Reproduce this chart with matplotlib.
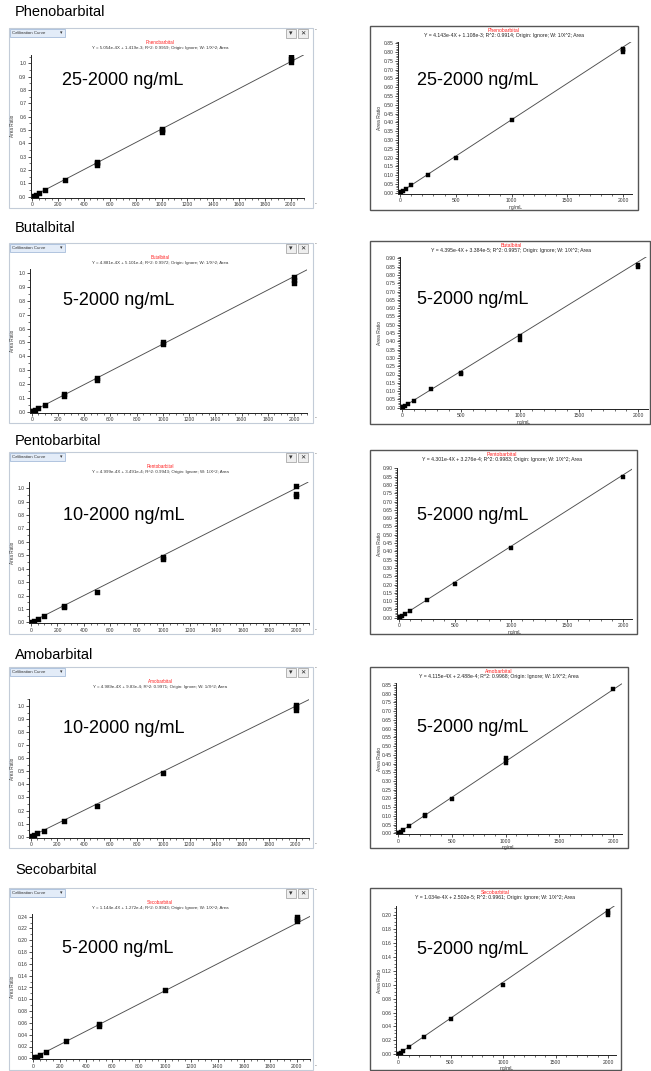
import matplotlib
matplotlib.use('Agg')
import matplotlib.pyplot as plt
from matplotlib.patches import Rectangle
from matplotlib.ticker import MultipleLocator, FormatStrFormatter

plt.rcParams['font.family'] = ['Liberation Sans', 'DejaVu Sans']

W, H = 651, 1071

# ---- data ----
drugs = ['Phenobarbital', 'Butalbital', 'Pentobarbital', 'Amobarbital', 'Secobarbital']
range_left = ['25-2000 ng/mL', '5-2000 ng/mL', '10-2000 ng/mL', '10-2000 ng/mL', '5-2000 ng/mL']
range_right = ['25-2000 ng/mL', '5-2000 ng/mL', '5-2000 ng/mL', '5-2000 ng/mL', '5-2000 ng/mL']

eq_left = [
    'Y = 5.054e-4X + 1.419e-3; R^2: 0.9959; Origin: Ignore; W: 1/X^2; Area',
    'Y = 4.881e-4X + 5.101e-4; R^2: 0.9972; Origin: Ignore; W: 1/X^2; Area',
    'Y = 4.999e-4X + 3.491e-4; R^2: 0.9943; Origin: Ignore; W: 1/X^2; Area',
    'Y = 4.989e-4X + 9.83e-4; R^2: 0.9971; Origin: Ignore; W: 1/X^2; Area',
    'Y = 1.144e-4X + 1.272e-4; R^2: 0.9943; Origin: Ignore; W: 1/X^2; Area',
]
eq_right = [
    'Y = 4.143e-4X + 1.108e-3; R^2: 0.9914; Origin: Ignore; W: 1/X^2; Area',
    'Y = 4.395e-4X + 3.384e-5; R^2: 0.9957; Origin: Ignore; W: 1/X^2; Area',
    'Y = 4.301e-4X + 3.276e-4; R^2: 0.9983; Origin: Ignore; W: 1/X^2; Area',
    'Y = 4.115e-4X + 2.488e-4; R^2: 0.9968; Origin: Ignore; W: 1/X^2; Area',
    'Y = 1.034e-4X + 2.502e-5; R^2: 0.9961; Origin: Ignore; W: 1/X^2; Area',
]
slope_left = [5.054e-4, 4.881e-4, 4.999e-4, 4.989e-4, 1.144e-4]
icpt_left = [1.419e-3, 5.101e-4, 3.491e-4, 9.83e-4, 1.272e-4]
slope_right = [4.143e-4, 4.395e-4, 4.301e-4, 4.115e-4, 1.034e-4]
icpt_right = [1.108e-3, 3.384e-5, 3.276e-4, 2.488e-4, 2.502e-5]

pheno_l_x = [10, 25, 50, 100, 250, 500, 500, 500, 1000, 1000, 1000, 2000, 2000, 2000]
pheno_l_y = [0.006, 0.012, 0.025, 0.05, 0.125, 0.235, 0.25, 0.262, 0.485, 0.5, 0.51, 1.01, 1.03, 1.05]
pheno_r_x = [10, 25, 50, 100, 250, 500, 1000, 2000, 2000, 2000]
pheno_r_y = [0.004, 0.008, 0.02, 0.045, 0.103, 0.2, 0.415, 0.80, 0.81, 0.82]

butal_l_x = [5, 10, 25, 50, 100, 250, 250, 500, 500, 1000, 1000, 2000, 2000, 2000]
butal_l_y = [0.003, 0.005, 0.012, 0.024, 0.048, 0.115, 0.13, 0.232, 0.245, 0.49, 0.505, 0.93, 0.95, 0.97]
butal_r_x = [5, 10, 25, 50, 100, 250, 500, 500, 1000, 1000, 2000, 2000]
butal_r_y = [0.002, 0.004, 0.01, 0.02, 0.042, 0.112, 0.205, 0.212, 0.405, 0.43, 0.85, 0.86]

pento_l_x = [10, 25, 50, 100, 250, 250, 500, 1000, 1000, 2000, 2000, 2000]
pento_l_y = [0.005, 0.012, 0.025, 0.048, 0.115, 0.122, 0.229, 0.472, 0.485, 0.94, 0.955, 1.02]
pento_r_x = [5, 10, 25, 50, 100, 250, 500, 1000, 2000]
pento_r_y = [0.002, 0.004, 0.01, 0.02, 0.043, 0.104, 0.204, 0.42, 0.848]

amo_l_x = [10, 25, 50, 100, 250, 500, 1000, 2000, 2000, 2000]
amo_l_y = [0.005, 0.012, 0.025, 0.046, 0.12, 0.236, 0.49, 0.97, 0.99, 1.01]
amo_r_x = [5, 10, 25, 50, 100, 250, 250, 500, 1000, 1000, 1000, 2000]
amo_r_y = [0.002, 0.004, 0.01, 0.02, 0.039, 0.097, 0.104, 0.197, 0.405, 0.418, 0.43, 0.825]

seco_l_x = [5, 10, 25, 50, 100, 250, 500, 500, 1000, 2000, 2000, 2000]
seco_l_y = [0.001, 0.002, 0.003, 0.0055, 0.011, 0.029, 0.054, 0.058, 0.116, 0.232, 0.236, 0.24]
seco_r_x = [5, 10, 25, 50, 100, 250, 500, 1000, 2000, 2000, 2000]
seco_r_y = [0.0005, 0.001, 0.0025, 0.005, 0.01, 0.025, 0.05, 0.1, 0.2, 0.203, 0.206]

left_x = [pheno_l_x, butal_l_x, pento_l_x, amo_l_x, seco_l_x]
left_y = [pheno_l_y, butal_l_y, pento_l_y, amo_l_y, seco_l_y]
right_x = [pheno_r_x, butal_r_x, pento_r_x, amo_r_x, seco_r_x]
right_y = [pheno_r_y, butal_r_y, pento_r_y, amo_r_y, seco_r_y]

# ---- layout (pixels in the 651x1071 picture) ----
title_y = [12.5, 228.5, 441, 655, 870]
lframe_top = [28, 243, 452, 667, 888]
lframe_bot = [208, 423, 634, 848, 1070]
rframe_top = [26, 241, 450, 667, 888]
rframe_bot = [210, 424, 634, 848, 1070]
rframe_right = [638, 650, 637, 628, 621]

# (pixel of y=0, top tick value, pixel of top tick)
lycal = [(196.7, 1.0, 63.3), (411.7, 1.0, 273.3), (622.3, 1.0, 488.3), (836.7, 1.0, 706.0), (1058.3, 0.24, 916.7)]
rycal = [(192.7, 0.85, 43.3), (407.7, 0.90, 258.3), (617.7, 0.85, 476.7), (833.3, 0.85, 685.0), (1054.3, 0.20, 915.0)]
# (pixel of x=0, pixel of x=2000)
lxcal = [(32.3, 290.7), (31.7, 294.0), (31.0, 296.0), (30.7, 295.7), (33.3, 296.7)]
rxcal = [(400.0, 623.3), (401.7, 638.3), (399.0, 623.0), (398.0, 613.0), (398.0, 608.0)]

lylim = [(-0.008, 1.065), (-0.008, 1.03), (-0.008, 1.045), (-0.008, 1.05), (-0.002, 0.245)]
rylim = [(-0.006, 0.86), (-0.006, 0.91), (-0.006, 0.90), (-0.006, 0.86), (-0.0015, 0.213)]
lxlim = (-12, 2100)
rxlim = (-15, 2080)

big_left = [(62, 85), (62.7, 305), (63.3, 520), (63.3, 733), (62.3, 953)]
big_right = [(417, 85), (417.3, 304.5), (417.3, 520), (417, 732), (417, 954)]
eq_center_r = [504, 511, 502, 499, 495]


def add_plot_axes(fig, xcal, ycal, xlim, ylim):
    x0, x2000 = xcal
    sx = (x2000 - x0) / 2000.0
    left_px = x0 + xlim[0] * sx
    right_px = x0 + xlim[1] * sx
    y0, vtop, ptop = ycal
    sy = (y0 - ptop) / vtop
    bot_px = y0 - ylim[0] * sy
    top_px = y0 - ylim[1] * sy
    ax = fig.add_axes([left_px / W, 1 - bot_px / H, (right_px - left_px) / W, (bot_px - top_px) / H])
    ax.set_xlim(*xlim)
    ax.set_ylim(*ylim)
    ax.set_facecolor('none')
    for s in ['top', 'right']:
        ax.spines[s].set_visible(False)
    for s in ['left', 'bottom']:
        ax.spines[s].set_linewidth(0.7)
        ax.spines[s].set_color('#222222')
    ax.tick_params(which='major', length=2.2, width=0.6, pad=1, labelsize=3.6, colors='#333333')
    ax.tick_params(which='minor', length=1.1, width=0.5, colors='#333333')
    return ax, (top_px + bot_px) / 2


fig = plt.figure(figsize=(W / 100, H / 100), dpi=100)
bg = fig.add_axes([0, 0, 1, 1])
bg.set_xlim(0, W)
bg.set_ylim(H, 0)
bg.axis('off')

for i in range(5):
    # section title
    bg.text(15, title_y[i], drugs[i], fontsize=10.5, va='center', ha='left', color='black')

    # ---------- left: software window screenshot ----------
    t, b = lframe_top[i], lframe_bot[i]
    bg.add_patch(Rectangle((9, t), 304, b - t, fill=False, ec='#c3ccd8', lw=0.8))
    bg.add_patch(Rectangle((10, t + 1), 55, 8, fc='#e3ecf8', ec='#97b1d4', lw=0.5))
    bg.text(12, t + 5, 'Calibration Curve', fontsize=3.2, va='center', ha='left', color='#333333')
    bg.text(61, t + 5, '▾', fontsize=3.5, va='center', ha='center', color='#333333')
    bg.add_patch(Rectangle((286, t + 1), 10, 9, fc='#eeeeee', ec='#9a9a9a', lw=0.5))
    bg.text(291, t + 5.5, '▾', fontsize=5, va='center', ha='center', color='#333333')
    bg.add_patch(Rectangle((298, t + 1), 10, 9, fc='#eeeeee', ec='#9a9a9a', lw=0.5))
    bg.text(303, t + 5.5, '✕', fontsize=4.5, va='center', ha='center', color='#222222', weight='bold')
    bg.text(316, t + 3, 'ˆ', fontsize=4, va='center', ha='center', color='#777777')
    bg.text(316, b - 3, 'ˇ', fontsize=4, va='center', ha='center', color='#777777')
    bg.text(160, t + 14.5, drugs[i], fontsize=3.3, va='center', ha='center', color='#ff2020')
    bg.text(160, t + 20, eq_left[i], fontsize=3.2, va='center', ha='center', color='#333333')

    ax, ymid = add_plot_axes(fig, lxcal[i], lycal[i], lxlim, lylim[i])
    ax.xaxis.set_major_locator(MultipleLocator(200))
    ax.xaxis.set_minor_locator(MultipleLocator(50))
    if i < 4:
        ax.yaxis.set_major_locator(MultipleLocator(0.1))
        ax.yaxis.set_minor_locator(MultipleLocator(0.05))
        ax.yaxis.set_major_formatter(FormatStrFormatter('%.1f'))
    else:
        ax.yaxis.set_major_locator(MultipleLocator(0.02))
        ax.yaxis.set_minor_locator(MultipleLocator(0.01))
        ax.yaxis.set_major_formatter(FormatStrFormatter('%.2f'))
    ax.axline((0, icpt_left[i]), slope=slope_left[i], color='#4d4d4d', lw=0.65)
    ax.plot(left_x[i], left_y[i], 's', ms=3.6, color='black', mec='black', mew=0.3)
    bg.text(12.7, ymid, 'Area Ratio', fontsize=3.3, rotation=90, va='center', ha='center', color='#333333')
    bg.text(big_left[i][0], big_left[i][1], range_left[i], fontsize=13, va='baseline', ha='left', color='black')

    # ---------- right: exported plot ----------
    t, b, r = rframe_top[i], rframe_bot[i], rframe_right[i]
    bg.add_patch(Rectangle((370, t), r - 370, b - t, fill=False, ec='#555555', lw=1.0))
    bg.text(eq_center_r[i], t + 4.7, drugs[i], fontsize=3.7, va='center', ha='center', color='#ff2020')
    bg.text(eq_center_r[i], t + 9.3, eq_right[i], fontsize=3.7, va='center', ha='center', color='#222222')

    ax, ymid = add_plot_axes(fig, rxcal[i], rycal[i], rxlim, rylim[i])
    ax.xaxis.set_major_locator(MultipleLocator(500))
    ax.xaxis.set_minor_locator(MultipleLocator(100))
    if i < 4:
        ax.yaxis.set_major_locator(MultipleLocator(0.05))
        ax.yaxis.set_minor_locator(MultipleLocator(0.01))
    else:
        ax.yaxis.set_major_locator(MultipleLocator(0.02))
        ax.yaxis.set_minor_locator(MultipleLocator(0.005))
    ax.yaxis.set_major_formatter(FormatStrFormatter('%.2f'))
    ax.set_xlabel('ng/mL', fontsize=3.6, labelpad=1, color='#333333')
    ax.axline((0, icpt_right[i]), slope=slope_right[i], color='#4d4d4d', lw=0.65)
    ax.plot(right_x[i], right_y[i], 's', ms=3.3, color='black', mec='black', mew=0.3)
    bg.text(379.3, ymid, 'Area Ratio', fontsize=3.6, rotation=90, va='center', ha='center', color='#333333')
    bg.text(big_right[i][0], big_right[i][1], range_right[i], fontsize=13, va='baseline', ha='left', color='black')

fig.savefig('out.png', dpi=100)
